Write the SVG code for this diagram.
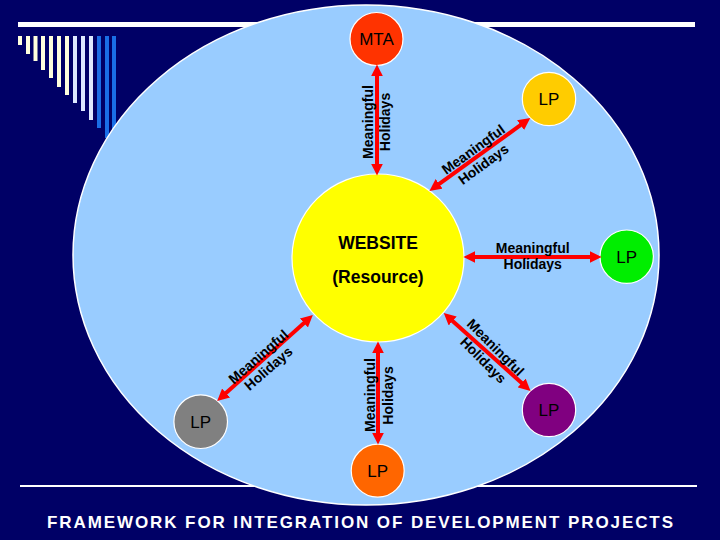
<svg xmlns="http://www.w3.org/2000/svg" width="720" height="540" viewBox="0 0 720 540">
<defs>
<marker id="ah" markerUnits="userSpaceOnUse" markerWidth="12" markerHeight="12" refX="2" refY="5" orient="auto-start-reverse" viewBox="0 0 10 10">
<path d="M0,0 L10,5 L0,10 z" fill="#f00"/>
</marker>
</defs>
<style>
.node circle,.node ellipse{stroke:#fff;stroke-width:1.2}
.lp{font-family:"Liberation Sans",Arial,sans-serif;font-size:17px;fill:#000;text-anchor:middle}
.lbl{font-family:"Liberation Sans",Arial,sans-serif;font-size:14px;font-weight:bold;fill:#000;text-anchor:middle;dominant-baseline:central}
.ar{stroke:#f00;stroke-width:4;fill:none;marker-start:url(#ah);marker-end:url(#ah)}
.cream{fill:#ffffdd}.pale{fill:#dde8ff}.blue{fill:#1a6ee6}
</style>
<rect width="720" height="540" fill="#000066"/>
<g id="decor">
<rect x="18" y="22" width="677" height="5" fill="#fff"/>
<rect x="20" y="485" width="677" height="2" fill="#fff"/>
<rect class="cream" x="18" y="36" width="4" height="9"/>
<rect class="cream" x="26" y="36" width="4" height="18"/>
<rect class="cream" x="33.5" y="36" width="4" height="25"/>
<rect class="cream" x="41" y="36" width="4" height="34"/>
<rect class="cream" x="49" y="36" width="4" height="42"/>
<rect class="cream" x="57" y="36" width="4" height="51"/>
<rect class="cream" x="65" y="36" width="4" height="59"/>
<rect class="pale" x="73" y="36" width="4" height="67"/>
<rect class="pale" x="81" y="36" width="4" height="75"/>
<rect class="pale" x="89" y="36" width="4" height="84"/>
<rect class="blue" x="97" y="36" width="4" height="92"/>
<rect class="blue" x="105" y="36" width="4" height="102"/>
<rect class="blue" x="112" y="36" width="4" height="110"/>
</g>
<g id="framework">
<ellipse cx="366" cy="255" rx="293" ry="250" fill="#99ccff" stroke="#fff" stroke-width="1.5"/>
</g>
<g id="website" class="node">
<ellipse cx="378" cy="258" rx="86" ry="84" fill="#ffff00"/>
<text x="378" y="249" font-family="Liberation Sans,Arial,sans-serif" font-size="17.5" font-weight="bold" text-anchor="middle">WEBSITE</text>
<text x="378" y="283" font-family="Liberation Sans,Arial,sans-serif" font-size="17.5" font-weight="bold" text-anchor="middle">(Resource)</text>
</g>
<g id="mta" class="node">
<circle cx="376.5" cy="39" r="26.5" fill="#ff3300"/>
<text class="lp" x="376.5" y="45">MTA</text>
</g>
<g id="lp-gold" class="node">
<circle cx="549" cy="99" r="26.7" fill="#ffcc00"/>
<text class="lp" x="549" y="105">LP</text>
</g>
<g id="lp-green" class="node">
<circle cx="626.7" cy="256.7" r="26.7" fill="#00ee00"/>
<text class="lp" x="626.7" y="262.7">LP</text>
</g>
<g id="lp-purple" class="node">
<circle cx="549" cy="410" r="26.7" fill="#800080"/>
<text class="lp" x="549" y="416">LP</text>
</g>
<g id="lp-orange" class="node">
<circle cx="377.7" cy="470.7" r="26.5" fill="#ff6600"/>
<text class="lp" x="377.7" y="476.7">LP</text>
</g>
<g id="lp-gray" class="node">
<circle cx="200.7" cy="421.7" r="26.8" fill="#808080"/>
<text class="lp" x="200.7" y="427.7">LP</text>
</g>
<g id="connectors">
<line class="ar" x1="377" y1="166" x2="377" y2="74"/>
<line class="ar" x1="437.2" y1="185.3" x2="522.5" y2="123.7"/>
<line class="ar" x1="473" y1="257" x2="592" y2="257"/>
<line class="ar" x1="450.9" y1="319.4" x2="523.4" y2="384.6"/>
<line class="ar" x1="305.7" y1="321.4" x2="224.3" y2="394.6"/>
<line class="ar" x1="378" y1="351" x2="378" y2="435"/>
</g>
<g id="connector-labels">
<text class="lbl" transform="translate(367.5,122) rotate(-90)">Meaningful</text>
<text class="lbl" transform="translate(385,122) rotate(-90)">Holidays</text>
<text class="lbl" transform="translate(473.3,149.3) rotate(-36)">Meaningful</text>
<text class="lbl" transform="translate(483.3,164) rotate(-36)">Holidays</text>
<text class="lbl" x="532.7" y="248">Meaningful</text>
<text class="lbl" x="532.7" y="264">Holidays</text>
<text class="lbl" transform="translate(495.7,347.3) rotate(45)">Meaningful</text>
<text class="lbl" transform="translate(483.3,360) rotate(45)">Holidays</text>
<text class="lbl" transform="translate(258.3,356.7) rotate(-41)">Meaningful</text>
<text class="lbl" transform="translate(268.3,368.3) rotate(-41)">Holidays</text>
<text class="lbl" transform="translate(370,395) rotate(-90)">Meaningful</text>
<text class="lbl" transform="translate(387.5,395.5) rotate(-90)">Holidays</text>
</g>
<g id="title">
<text x="47" y="528" font-family="Liberation Sans,Arial,sans-serif" font-size="17" font-weight="bold" fill="#fff" textLength="626" lengthAdjust="spacing">FRAMEWORK FOR INTEGRATION OF DEVELOPMENT PROJECTS</text>
</g>
</svg>
